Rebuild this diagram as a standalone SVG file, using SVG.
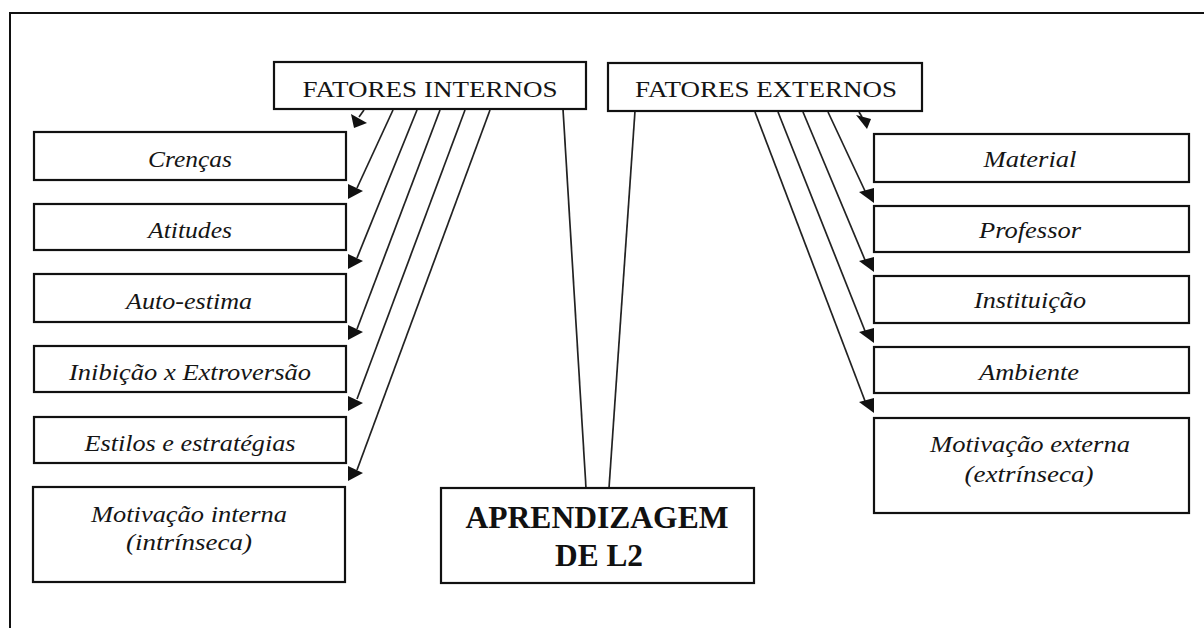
<svg xmlns="http://www.w3.org/2000/svg" width="1204" height="628" viewBox="0 0 1204 628">
<style>
.box{fill:#fff;stroke:#111;stroke-width:2.2}
.hd{font-family:"Liberation Serif","Times New Roman",serif;font-size:24px;fill:#151515}
.it{font-family:"Liberation Serif","Times New Roman",serif;font-size:24px;font-style:italic;fill:#151515}
.bd{font-family:"Liberation Serif","Times New Roman",serif;font-size:31px;font-weight:bold;fill:#111}
.ln{stroke:#222;stroke-width:1.7;fill:none}
.ah{fill:#111}
</style>
<defs>
<path id="ahL" d="M0,-8 L0,7 L15,-1 Z"/>
<path id="ahR" d="M0,-7 L0,8 L-15,-3 Z"/>
</defs>
<rect width="1204" height="628" fill="#fff"/>
<path d="M10,628 L10,13 L1204,13" fill="none" stroke="#111" stroke-width="2"/>

<g id="connectors">
<line class="ln" x1="563" y1="109" x2="586" y2="488"/>
<line class="ln" x1="635" y1="111" x2="609" y2="488"/>
<line class="ln" x1="393" y1="110" x2="357" y2="188"/>
<line class="ln" x1="417" y1="110" x2="357" y2="258"/>
<line class="ln" x1="440" y1="110" x2="357" y2="329"/>
<line class="ln" x1="465" y1="110" x2="357" y2="399"/>
<line class="ln" x1="490" y1="110" x2="357" y2="470"/>
<line class="ln" x1="828" y1="112" x2="865" y2="191"/>
<line class="ln" x1="803" y1="112" x2="865" y2="260"/>
<line class="ln" x1="778" y1="112" x2="865" y2="331"/>
<line class="ln" x1="755" y1="112" x2="865" y2="401"/>
<line class="ln" x1="364" y1="110" x2="359" y2="117"/>
<polygon class="ah" points="351,114 354,128 367,123"/>
<line class="ln" x1="859" y1="112" x2="862" y2="117"/>
<polygon class="ah" points="856,115 871,119 867,129"/>
<use href="#ahL" class="ah" x="348" y="192"/>
<use href="#ahL" class="ah" x="348" y="262"/>
<use href="#ahL" class="ah" x="348" y="333"/>
<use href="#ahL" class="ah" x="348" y="404"/>
<use href="#ahL" class="ah" x="348" y="474"/>
<use href="#ahR" class="ah" x="874" y="195"/>
<use href="#ahR" class="ah" x="874" y="264"/>
<use href="#ahR" class="ah" x="874" y="335"/>
<use href="#ahR" class="ah" x="874" y="405"/>
</g>

<g id="fatores-internos">
<rect class="box" x="274" y="62" width="312" height="47"/>
<text class="hd" x="430" y="97" text-anchor="middle" textLength="255" lengthAdjust="spacingAndGlyphs">FATORES INTERNOS</text>
</g>
<g id="fatores-externos">
<rect class="box" x="608" y="63" width="314" height="48"/>
<text class="hd" x="766" y="97" text-anchor="middle" textLength="262" lengthAdjust="spacingAndGlyphs">FATORES EXTERNOS</text>
</g>

<g id="crencas">
<rect class="box" x="34" y="132" width="312" height="48"/>
<text class="it" x="190" y="167" text-anchor="middle" textLength="84" lengthAdjust="spacingAndGlyphs">Crenças</text>
</g>
<g id="atitudes">
<rect class="box" x="34" y="204" width="312" height="46"/>
<text class="it" x="190" y="238" text-anchor="middle" textLength="84" lengthAdjust="spacingAndGlyphs">Atitudes</text>
</g>
<g id="auto-estima">
<rect class="box" x="34" y="274" width="312" height="48"/>
<text class="it" x="189" y="309" text-anchor="middle" textLength="126" lengthAdjust="spacingAndGlyphs">Auto-estima</text>
</g>
<g id="inibicao">
<rect class="box" x="34" y="346" width="312" height="46"/>
<text class="it" x="190" y="380" text-anchor="middle" textLength="242" lengthAdjust="spacingAndGlyphs">Inibição x Extroversão</text>
</g>
<g id="estilos">
<rect class="box" x="34" y="417" width="312" height="46"/>
<text class="it" x="190" y="451" text-anchor="middle" textLength="211" lengthAdjust="spacingAndGlyphs">Estilos e estratégias</text>
</g>
<g id="motivacao-interna">
<rect class="box" x="33" y="487" width="312" height="95"/>
<text class="it" x="189" y="522" text-anchor="middle" textLength="196" lengthAdjust="spacingAndGlyphs">Motivação interna</text>
<text class="it" x="189" y="550" text-anchor="middle" textLength="126" lengthAdjust="spacingAndGlyphs">(intrínseca)</text>
</g>

<g id="aprendizagem">
<rect class="box" x="441" y="488" width="313" height="95"/>
<text class="bd" x="597" y="528" text-anchor="middle" textLength="263" lengthAdjust="spacingAndGlyphs">APRENDIZAGEM</text>
<text class="bd" x="599" y="566" text-anchor="middle" textLength="88" lengthAdjust="spacingAndGlyphs">DE L2</text>
</g>

<g id="material">
<rect class="box" x="874" y="134" width="315" height="48"/>
<text class="it" x="1030" y="167" text-anchor="middle" textLength="93" lengthAdjust="spacingAndGlyphs">Material</text>
</g>
<g id="professor">
<rect class="box" x="874" y="206" width="315" height="46"/>
<text class="it" x="1030" y="238" text-anchor="middle" textLength="102" lengthAdjust="spacingAndGlyphs">Professor</text>
</g>
<g id="instituicao">
<rect class="box" x="874" y="276" width="315" height="47"/>
<text class="it" x="1030" y="308" text-anchor="middle" textLength="112" lengthAdjust="spacingAndGlyphs">Instituição</text>
</g>
<g id="ambiente">
<rect class="box" x="874" y="347" width="315" height="46"/>
<text class="it" x="1029" y="380" text-anchor="middle" textLength="100" lengthAdjust="spacingAndGlyphs">Ambiente</text>
</g>
<g id="motivacao-externa">
<rect class="box" x="874" y="418" width="315" height="95"/>
<text class="it" x="1030" y="452" text-anchor="middle" textLength="200" lengthAdjust="spacingAndGlyphs">Motivação externa</text>
<text class="it" x="1029" y="482" text-anchor="middle" textLength="129" lengthAdjust="spacingAndGlyphs">(extrínseca)</text>
</g>
</svg>
